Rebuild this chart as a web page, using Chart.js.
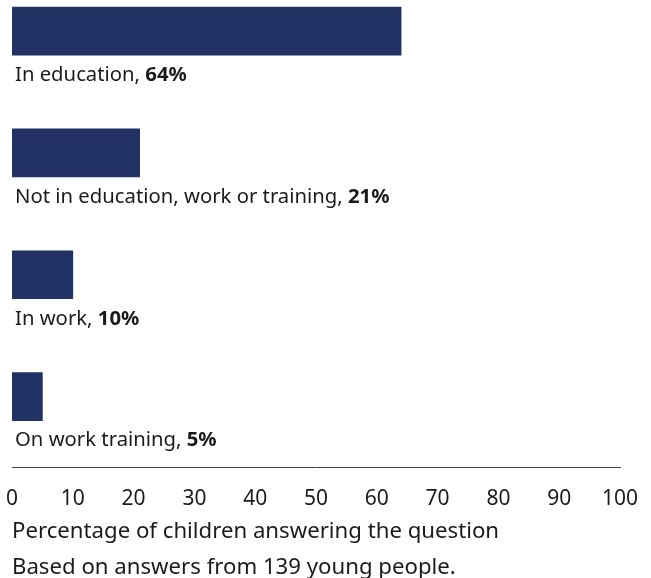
<!DOCTYPE html>
<html>
<head>
<meta charset="utf-8">
<script src="https://cdn.jsdelivr.net/npm/chart.js@4/dist/chart.umd.min.js"></script>
<style>
  html, body { margin: 0; padding: 0; background: #ffffff; overflow: hidden; }
  #wrap { position: relative; width: 651px; height: 586px; }
</style>
</head>
<body>
<div id="wrap"><canvas id="c"></canvas></div>
<script>
// ---- data ----
const categories = ["In education", "Not in education, work or training", "In work", "On work training"];
const percentages = [64, 21, 10, 5];
const xTickValues = [0, 10, 20, 30, 40, 50, 60, 70, 80, 90, 100];
const axisTitle = "Percentage of children answering the question";
const footnote = "Based on answers from 139 young people.";

const FONT = "'Noto Sans', sans-serif";
const BAR_COLOR = "#233265";
const TEXT_COLOR = "#1b1b1b";

const barLabels = {
  id: 'barLabels',
  afterDatasetsDraw(chart) {
    const ctx = chart.ctx;
    const meta = chart.getDatasetMeta(0);
    ctx.save();
    ctx.textBaseline = 'middle';
    ctx.fillStyle = TEXT_COLOR;
    meta.data.forEach((bar, i) => {
      const y = bar.y + bar.height / 2 + 20;
      let x = chart.chartArea.left + 3;
      const first = categories[i] + ", ";
      ctx.font = "20.3px " + FONT;
      ctx.fillText(first, x, y);
      x += ctx.measureText(first).width;
      ctx.font = "bold 20.3px " + FONT;
      ctx.fillText(percentages[i] + "%", x, y);
    });
    ctx.restore();
  }
};

new Chart(document.getElementById('c'), {
  type: 'bar',
  data: {
    datasets: [{
      data: categories.map((c, i) => ({ x: percentages[i], y: i })),
      backgroundColor: BAR_COLOR,
      borderWidth: 0,
      barThickness: 48
    }]
  },
  options: {
    indexAxis: 'y',
    responsive: true,
    maintainAspectRatio: false,
    animation: false,
    layout: { padding: { left: 12, right: 31, top: 0, bottom: 0 } },
    plugins: { legend: { display: false }, tooltip: { enabled: false } },
    scales: {
      y: {
        type: 'linear',
        reverse: true,
        offset: false,
        min: -0.255,
        max: 3.585,
        display: false
      },
      x: {
        type: 'linear',
        min: 0,
        max: 100,
        afterBuildTicks(scale) { scale.ticks = xTickValues.map(v => ({ value: v })); },
        afterFit(scale) { scale.paddingLeft = 0; scale.paddingRight = 0; },
        grid: { display: false, drawTicks: false },
        border: { display: true, color: '#444444', width: 1 },
        ticks: { color: TEXT_COLOR, font: { family: FONT, size: 21 }, padding: 19, maxRotation: 0 },
        title: {
          display: true,
          text: [axisTitle, footnote],
          align: 'start',
          color: TEXT_COLOR,
          font: { family: FONT, size: 22.2, lineHeight: 1.62 },
          padding: { top: -17, bottom: 0 }
        }
      }
    }
  },
  plugins: [barLabels]
});
</script>
</body>
</html>
